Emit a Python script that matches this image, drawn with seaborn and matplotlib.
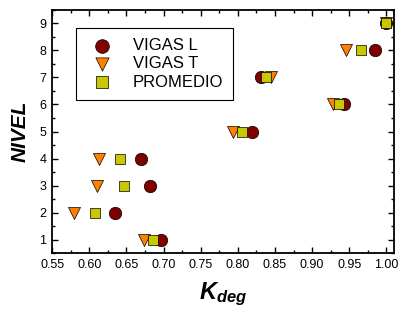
import matplotlib
matplotlib.use("Agg")
import matplotlib.pyplot as plt
from matplotlib.ticker import MultipleLocator
import seaborn as sns

# data
nivel = [1, 2, 3, 4, 5, 6, 7, 8, 9]
vigas_l = [0.697, 0.635, 0.682, 0.669, 0.819, 0.943, 0.831, 0.984, 1.000]
vigas_t = [0.674, 0.580, 0.610, 0.613, 0.794, 0.928, 0.844, 0.946, 1.000]
promedio = [0.686, 0.608, 0.647, 0.642, 0.806, 0.936, 0.838, 0.966, 1.000]
x_ticks = [0.55, 0.60, 0.65, 0.70, 0.75, 0.80, 0.85, 0.90, 0.95, 1.00]
y_ticks = [1, 2, 3, 4, 5, 6, 7, 8, 9]

sns.set_style("ticks")
plt.rcParams["font.family"] = ["Liberation Sans", "DejaVu Sans"]
plt.rcParams["mathtext.fontset"] = "custom"
plt.rcParams["mathtext.it"] = "Liberation Sans:italic:bold"
plt.rcParams["mathtext.rm"] = "Liberation Sans:bold"
plt.rcParams["text.color"] = "black"
plt.rcParams["axes.labelcolor"] = "black"
plt.rcParams["xtick.color"] = "black"
plt.rcParams["ytick.color"] = "black"

fig = plt.figure(figsize=(4.04, 3.2), dpi=100)
ax = fig.add_axes([0.129, 0.209, 0.846, 0.760])

sns.scatterplot(x=vigas_l, y=nivel, ax=ax, marker="o", s=80, color="#800000",
                edgecolor="black", linewidth=0.5, label="VIGAS L", zorder=3)
sns.scatterplot(x=vigas_t, y=nivel, ax=ax, marker="v", s=75, color="#FF8000",
                edgecolor="black", linewidth=0.5, label="VIGAS T", zorder=4)
sns.scatterplot(x=promedio, y=nivel, ax=ax, marker="s", s=55, color="#C8C800",
                edgecolor="black", linewidth=0.5, label="PROMEDIO", zorder=5)

ax.set_xlim(0.55, 1.01)
ax.set_ylim(0.5, 9.5)
ax.set_xticks(x_ticks)
ax.set_xticklabels([f"{v:.2f}" for v in x_ticks])
ax.set_yticks(y_ticks)
ax.xaxis.set_minor_locator(MultipleLocator(0.025))
ax.yaxis.set_minor_locator(MultipleLocator(0.5))
ax.tick_params(which="both", direction="in", top=True, right=True,
               labelsize=9, width=1, color="black", labelcolor="black")
ax.tick_params(which="major", length=4, pad=4)
ax.tick_params(which="minor", length=2)
for sp in ax.spines.values():
    sp.set_linewidth(1.3)
    sp.set_color("black")

ax.set_xlabel(r"$K_{deg}$", fontsize=17, labelpad=7)
ax.set_ylabel("NIVEL", fontsize=15, fontweight="bold", fontstyle="italic", labelpad=7)

leg = ax.legend(loc="upper left", bbox_to_anchor=(0.07, 0.926), borderaxespad=0,
                fontsize=12, frameon=True, fancybox=False, framealpha=1,
                edgecolor="black", borderpad=0.6, labelspacing=0.2,
                handlelength=1.9, handletextpad=0.9, markerscale=1.1)
leg.get_frame().set_linewidth(0.8)

fig.savefig("out.png", dpi=100)
